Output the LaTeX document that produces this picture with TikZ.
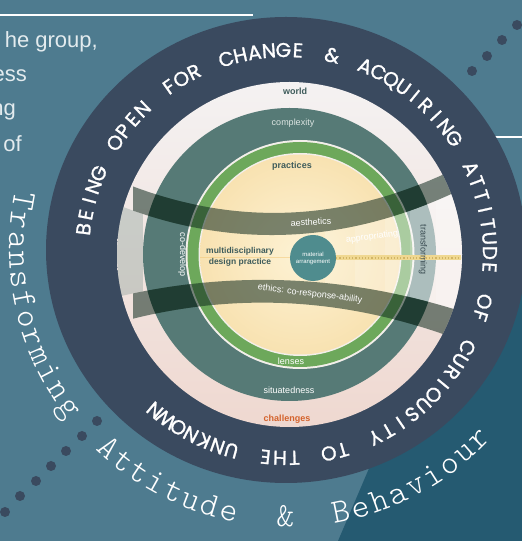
\documentclass[tikz,border=0pt]{standalone}
\usepackage{fontspec}
\setmainfont{Liberation Sans}
\newfontfamily\popfont{Poppins}[FakeBold=1.2]
\newfontfamily\ttlight{lmmonolt10-regular.otf}
\definecolor{bgteal}{HTML}{4E7B8F}
\definecolor{bgdark}{HTML}{255A71}
\definecolor{ringnavy}{HTML}{3A4A5F}
\definecolor{ringwhite}{HTML}{F4F2F2}
\definecolor{ringpink}{HTML}{EFD8D0}
\definecolor{ringteal}{HTML}{567A76}
\definecolor{ringgreen}{HTML}{6DA85B}
\definecolor{gapwhite}{HTML}{F3EFEA}
\definecolor{diskyellow}{HTML}{F8E2B1}
\definecolor{disklight}{HTML}{FDF2D4}
\definecolor{bandcol}{HTML}{0F2A1E}
\definecolor{circteal}{HTML}{4F8C8E}
\definecolor{dotyellow}{HTML}{F0D891}
\definecolor{dotspeck}{HTML}{D2B565}
\definecolor{labeldark}{HTML}{3E5C5B}
\definecolor{transfcol}{HTML}{3A4C52}
\definecolor{complexcol}{HTML}{DCE5E2}
\definecolor{chalorange}{HTML}{D4622C}
\definecolor{paratext}{HTML}{E3EBEE}
\definecolor{hazecol}{HTML}{7F9A93}
\newlength\atbox
\def\spmark{_}
\def\ringtext{B,E,I,N,G,_,O,P,E,N,_,F,O,R,_,C,H,A,N,G,E,_,\&,_,A,C,Q,U,I,R,I,N,G,_,A,T,T,I,T,U,D,E,_,O,F,_,C,U,R,I,O,U,S,I,T,Y,_,T,O,_,T,H,E,_,U,N,K,N,O,W,N}
\def\monotext{T,r,a,n,s,f,o,r,m,i,n,g,_,A,t,t,i,t,u,d,e,_,\&,_,B,e,h,a,v,i,o,u,r}
% #1 font, #2 list, #3 centre, #4 radius, #5 start angle, #6 signed span,
% #7 rotation offset, #8 width of a space, #9 colour
\newcommand\arctext[9]{%
  \gdef\atw{0}\gdef\atn{0}%
  \foreach \ch in #2 {%
    \ifx\ch\spmark \xdef\chw{#8}\else \settowidth{\atbox}{#1\ch}\pgfmathsetmacro\chwl{\the\atbox}\xdef\chw{\chwl}\fi
    \pgfmathsetmacro\tmpa{\atw+\chw}\xdef\atw{\tmpa}%
    \pgfmathsetmacro\tmpb{\atn+1}\xdef\atn{\tmpb}%
  }%
  \pgfmathsetmacro\atlen{abs(#6)*pi/180*#4}%
  \pgfmathsetmacro\attrack{(\atlen-\atw)/(\atn-1)}%
  \gdef\atcum{0}%
  \foreach \ch in #2 {%
    \ifx\ch\spmark \xdef\chw{#8}\else \settowidth{\atbox}{#1\ch}\pgfmathsetmacro\chwl{\the\atbox}\xdef\chw{\chwl}\fi
    \pgfmathsetmacro\atfrac{(\atcum+\chw/2)/\atlen}%
    \pgfmathsetmacro\ang{#5+#6*\atfrac}%
    \ifx\ch\spmark\else
      \node[rotate=\ang+#7, anchor=base, inner sep=0pt, text=#9, font={#1}] at ([shift={(\ang:#4pt)}]#3) {\ch};%
    \fi
    \pgfmathsetmacro\tmpc{\atcum+\chw+\attrack}\xdef\atcum{\tmpc}%
  }%
}
% band edges, s = (x-300)/100
\def\uptop{329 + 7.006*((\x-300)/100) + 13.363*((\x-300)/100)*((\x-300)/100)}
\def\upbot{307 + 7.207*((\x-300)/100) + 12.708*((\x-300)/100)*((\x-300)/100)}
\def\lotop{260 - 5.935*((\x-300)/100) - 8.006*((\x-300)/100)*((\x-300)/100)}
\def\lobot{237 - 7.256*((\x-300)/100) - 9.613*((\x-300)/100)*((\x-300)/100)}
\begin{document}
\begin{tikzpicture}[x=1pt,y=1pt,
  paratxt/.style={inner sep=0pt, text=paratext, font=\fontsize{22}{26}\selectfont, anchor=base east},
  ringlbl/.style={inner sep=0pt, font=\fontsize{9}{10}\selectfont},
  darklbl/.style={ringlbl, text=labeldark, font=\fontsize{9}{10}\selectfont\bfseries},
  bandlbl/.style={inner sep=0pt, text=white, font=\fontsize{9}{10}\selectfont},
  navydot/.style={fill=ringnavy},
  bandfill/.style={fill=bandcol, fill opacity=0.55},
  bandextra/.style={fill=bandcol, fill opacity=0.45},
  beamfill/.style={fill=white, fill opacity=0.17}]
\useasboundingbox (0,0) rectangle (522,541);
% background
\fill[bgteal] (0,0) rectangle (522,541);
\fill[bgdark] (338,0) -- (385,110) -- (522,300) -- (522,0) -- cycle;
% rules
\coordinate (ruleA) at (0,526);
\coordinate (ruleB) at (253,526);
\coordinate (ruleC) at (440,404);
\coordinate (ruleD) at (522,404);
\draw[white, line width=2.2pt] (ruleA) -- (ruleB);
\draw[white, line width=1.6pt] (ruleC) -- (ruleD);
% paragraph endings
\node[paratxt] (p1) at (98,493) {he group,};
\node[paratxt] (p2) at (27,459) {ess};
\node[paratxt] (p3) at (16,425) {ng};
\node[paratxt] (p4) at (22,389) {of};
% dots
\foreach \px/\py in {472/470, 487/485, 502/501, 517/516}
  \fill[navydot] (\px,\py) circle (5pt);
\foreach \px/\py in {97/120, 82/105, 66/90, 51/75, 36/60, 20/45, 5/29}
  \fill[navydot] (\px,\py) circle (5pt);
% outer navy ring
\fill[ringnavy] (286,291) ellipse [x radius=240pt, y radius=233pt];
% text along the navy ring (clockwise)
\arctext{\popfont\fontsize{20}{20}\selectfont}{\ringtext}{286,287}{197}{173}{-303}{-90}{5.5}{white}
% outer typewriter text (counter-clockwise)
\arctext{\ttlight\fontsize{34}{34}\selectfont}{\monotext}{288,293}{279}{170}{145}{90}{17.85}{white}
% inner rings
\shade[top color=ringwhite, bottom color=ringpink] (289.5,286.5) circle (172.5pt);
\fill[ringteal] (289.5,286.5) circle (146.5pt);
\fill[gapwhite] (300,286.5) circle (114.5pt);
\fill[ringgreen] (300,286.5) circle (112.5pt);
\fill[gapwhite] (300,286.5) circle (101.5pt);
\shade[inner color=disklight, outer color=diskyellow] (300,286.5) circle (100pt);
% haze between the bands on the left rim
\begin{scope}
\clip (289.5,286.5) circle (172.5pt);
\clip plot[domain=110:150, samples=10] (\x, {\upbot}) -- plot[domain=150:110, samples=10] (\x, {\lotop}) -- cycle;
\fill[hazecol, fill opacity=0.35] (110,150) rectangle (143,420);
\end{scope}
% beam between the bands
\begin{scope}
\clip (289.5,286.5) circle (172.5pt);
\clip plot[domain=325:480, samples=40] (\x, {\upbot}) -- plot[domain=480:325, samples=40] (\x, {\lotop}) -- cycle;
\fill[beamfill] (325,150) rectangle (480,420);
\fill[beamfill] (355,150) rectangle (480,420);
\fill[beamfill] (385,150) rectangle (480,420);
\fill[beamfill] (410,150) rectangle (480,420);
\fill[beamfill] (436,150) rectangle (480,420);
\end{scope}
% bands
\begin{scope}
\clip (289.5,286.5) circle (172.5pt);
\clip (133,150) rectangle (480,420);
\fill[bandfill] plot[domain=120:480, samples=60] (\x, {\uptop}) -- plot[domain=480:120, samples=60] (\x, {\upbot}) -- cycle;
\fill[bandfill] plot[domain=120:480, samples=60] (\x, {\lotop}) -- plot[domain=480:120, samples=60] (\x, {\lobot}) -- cycle;
\end{scope}
% darker blocks where the bands cross the teal ring
\begin{scope}[even odd rule]
\clip (289.5,286.5) circle (146.5pt) (300,286.5) circle (114.5pt);
\fill[bandextra] plot[domain=120:480, samples=60] (\x, {\uptop}) -- plot[domain=480:120, samples=60] (\x, {\upbot}) -- cycle;
\fill[bandextra] plot[domain=120:480, samples=60] (\x, {\lotop}) -- plot[domain=480:120, samples=60] (\x, {\lobot}) -- cycle;
\end{scope}
% material arrangement and yellow dotted line
\node[circle, fill=circteal, minimum size=46pt, inner sep=0pt, text=white, align=center,
  font=\fontsize{6}{7}\selectfont] (mat) at (313,283) {material\\arrangement};
\coordinate (dotend) at (461,283);
\coordinate (faintstart) at (200,283);
\draw[dotyellow, line width=5pt] (mat.east) -- (dotend);
\draw[dotspeck, line width=1.3pt, dash pattern=on 1.2pt off 2pt] (mat.east) -- (dotend);
\draw[dotyellow!80!orange, line width=1pt, opacity=0.5] (faintstart) -- (mat.west);
% ring labels
\node[darklbl] (world) at (295,450) {world};
\node[ringlbl, text=complexcol] (complexity) at (293,418) {complexity};
\node[darklbl] (practices) at (292,375) {practices};
\node[ringlbl, text=white] (lenses) at (291,179.5) {lenses};
\node[ringlbl, text=white] (situated) at (289,151) {situatedness};
\node[ringlbl, text=chalorange, font=\fontsize{9}{10}\selectfont\bfseries] (challenges) at (287,122) {challenges};
% band labels
\node[bandlbl, rotate=3] (aesthetics) at (311,319) {aesthetics};
\node[bandlbl, rotate=8] (appropriating) at (372,304) {appropriating};
\node[bandlbl, rotate=-7] (ethics) at (310,247) {ethics: co-response-ability};
\node[bandlbl, rotate=-90] (codevelop) at (182.5,286) {co-develop};
\node[bandlbl, text=transfcol, rotate=-90] (transforming) at (423,291) {transforming};
\node[inner sep=0pt, align=center, text=labeldark, font=\fontsize{8.5}{11}\selectfont\bfseries] (mdp) at (240,284) {multidisciplinary\\design practice};
\end{tikzpicture}
\end{document}
